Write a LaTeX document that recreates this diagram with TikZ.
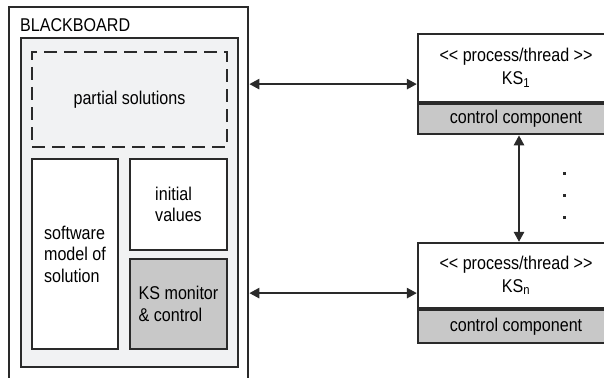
\documentclass[tikz,border=0pt]{standalone}
\usepackage{fontspec}
\setmainfont{Liberation Sans}[Ligatures=TeXOff, FakeStretch=0.87]
\usetikzlibrary{arrows.meta,calc}

\definecolor{boardgray}{HTML}{F1F2F3}
\definecolor{ctlgray}{HTML}{C8C8C8}
\definecolor{linegray}{HTML}{2A2A2A}

\tikzset{
  part/.style={draw=linegray, line width=1.6pt, inner sep=0pt, align=left},
  ksbox/.style={draw=linegray, line width=2.2pt, minimum width=196pt, inner sep=0pt, align=center},
  link/.style={draw=linegray, line width=2.4pt,
    {Triangle[length=10pt,width=10pt]}-{Triangle[length=10pt,width=10pt]}},
}

\begin{document}
\begin{tikzpicture}[x=1pt,y=-1pt,font=\fontsize{18.5}{21.5}\selectfont]
\useasboundingbox (0,0) rectangle (604,377);
\clip (0,0) rectangle (604,377);

% blackboard
\node[part, line width=2.6pt, minimum width=239pt, minimum height=383pt] (blackboard) at (128.5,198.5) {};
\node[anchor=west, inner sep=0pt] (title) at (20,25) {BLACKBOARD};
\node[part, fill=boardgray, minimum width=217pt, minimum height=329pt] (board) at (129.5,202.5) {};

\node[part, dash pattern=on 13pt off 7pt, minimum width=195pt, minimum height=95pt] (partial) at (129.5,99.5) {partial solutions};
\node[part, fill=white, minimum width=86pt, minimum height=190pt] (model) at (75,254) {software\\model of\\solution};
\node[part, fill=white, minimum width=97pt, minimum height=91pt] (initial) at (178.5,204.5) {initial\\values};
\node[part, fill=ctlgray, minimum width=97pt, minimum height=90pt] (monitor) at (178.5,304) {KS monitor\\\& control};

% knowledge sources
\node[ksbox, minimum height=68pt] (ks1) at (516,68) {<< process/thread >>\\[1pt]KS\textsubscript{1}};
\node[ksbox, fill=ctlgray, minimum height=30pt, anchor=north] (ks1ctl) at (ks1.south) {control component};

\node[ksbox, minimum height=65pt] (ksn) at (516,275.5) {<< process/thread >>\\[1pt]KS\textsubscript{n}};
\node[ksbox, fill=ctlgray, minimum height=33pt, anchor=north] (ksnctl) at (ksn.south) {control component};

\coordinate (ks1mid) at ($(ks1.north west)!0.5!(ks1ctl.south west)$);
\coordinate (ksnmid) at ($(ksn.north west)!0.5!(ksnctl.south west)$);

\draw[link] (ks1mid -| blackboard.east) -- (ks1mid);
\draw[link] (ksnmid -| blackboard.east) -- (ksnmid);
\draw[link] ([xshift=3pt]ks1ctl.south) -- ([xshift=3pt]ksn.north);

% dots
\foreach \y in {173,195,217}
  \fill[linegray] (562.5,\y-1.5) rectangle ++(3,3);
\end{tikzpicture}
\end{document}
